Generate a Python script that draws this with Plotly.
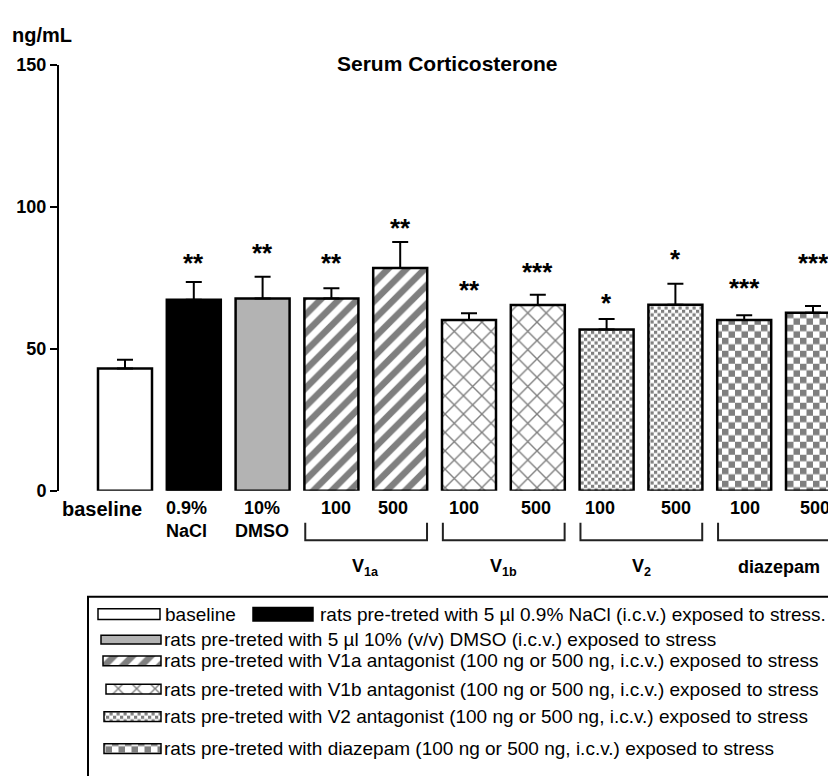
import plotly.graph_objects as go

# ---------------- data ----------------
categories = ["baseline", "0.9%<br>NaCl", "10%<br>DMSO", "100", "500", "100", "500",
              "100", "500", "100", "500"]
means = [43.1, 67.3, 67.7, 67.7, 78.4, 60.1, 65.4, 56.8, 65.5, 60.1, 62.7]
sem = [3.0, 6.2, 7.7, 3.6, 9.2, 2.4, 3.6, 3.7, 7.4, 1.7, 2.4]
stars = ["", "**", "**", "**", "**", "**", "***", "*", "*", "***", "***"]
star_y = [None, 82.8, 86.3, 82.5, 94.9, 73.1, 79.4, 68.6, 84.2, 74.0, 82.7]
bar_group = ["baseline", "NaCl", "DMSO", "V1a", "V1a", "V1b", "V1b", "V2", "V2",
             "diazepam", "diazepam"]
group_labels = ["V<sub>1a</sub>", "V<sub>1b</sub>", "V<sub>2</sub>", "diazepam"]
group_members = [[3, 4], [5, 6], [7, 8], [9, 10]]
y_ticks = [0, 50, 100, 150]
legend_keys = ["baseline", "NaCl", "DMSO", "V1a", "V1b", "V2", "diazepam"]
legend_texts = [
    "baseline",
    "rats pre-treted with 5 µl 0.9% NaCl (i.c.v.) exposed to stress.",
    "rats pre-treted with 5 µl 10% (v/v) DMSO (i.c.v.) exposed to stress",
    "rats pre-treted with V1a antagonist (100 ng or 500 ng, i.c.v.) exposed to stress",
    "rats pre-treted with V1b antagonist (100 ng or 500 ng, i.c.v.) exposed to stress",
    "rats pre-treted with V2 antagonist (100 ng or 500 ng, i.c.v.) exposed to stress",
    "rats pre-treted with diazepam (100 ng or 500 ng, i.c.v.) exposed to stress",
]

# ---------------- layout / style constants ----------------
W, H = 836, 776
OFF = 8  # page body margin: figure appears shifted by this many pixels
FONT = "Liberation Sans, Arial, sans-serif"
BAR_W = 0.785
label_shift_px = [-23, -7, -1, 5, -7, -5, -2, -7, 1, 1, 2]
label_size = [20, 18, 18, 18, 18, 18, 18, 18, 18, 18, 18]

CHECKER = "M0,0H6.5V6.5H0Z M6.5,6.5H13V13H6.5Z"
DOTS = "M0,0H3.2V3.2H0Z M3.5,3.5H6.7V6.7H3.5Z"

styles = {
    "baseline": dict(color="white"),
    "NaCl": dict(color="black"),
    "DMSO": dict(color="#b3b3b3"),
    "V1a": dict(color="white", pattern=dict(shape="/", fgcolor="black", bgcolor="white",
                                            size=13, solidity=0.5)),
    "V1b": dict(color="white", pattern=dict(shape="x", fgcolor="black", bgcolor="white",
                                            size=13, solidity=0.2)),
    "V2": dict(color="white", pattern=dict(path=DOTS, fgcolor="black", bgcolor="white",
                                           size=7)),
    "diazepam": dict(color="white", pattern=dict(path=CHECKER, fgcolor="black",
                                                 bgcolor="white", size=13)),
}

# legend geometry in screen pixels
leg_row_y = [620, 620, 646, 668, 697, 725, 758]
leg_sw_left = [98, 253, 101, 103, 106, 104, 104]
leg_sw_right = [160, 313, 161, 161, 161, 161, 161]
leg_sw_h = [11, 14, 9, 10, 10, 10, 10]
leg_text_left = [163, 318, 162, 162, 162, 162, 162]


def px_x(p):
    return (p - OFF) / W


def px_y(q):
    return 1 - (q - OFF) / H


# screen pixel -> bar index mapping: x = (p - 125) / 68.8
X_LEFT = (59 - 125) / 68.8
X_RIGHT = (W + OFF - 125) / 68.8

fig = go.Figure()

# ---------------- main bars ----------------
for key in ["baseline", "NaCl", "DMSO", "V1a", "V1b", "V2", "diazepam"]:
    idx = [i for i, g in enumerate(bar_group) if g == key]
    fig.add_trace(go.Bar(
        x=idx, y=[means[i] for i in idx], width=BAR_W,
        marker=dict(line=dict(color="black", width=2.5), **styles[key]),
        error_y=dict(type="data", symmetric=False, array=[sem[i] for i in idx],
                     arrayminus=[0] * len(idx), color="black", thickness=2, width=8),
        xaxis="x", yaxis="y", hoverinfo="skip",
    ))

# ---------------- legend swatches (own axes in screen-pixel units) ----------------
for k, key in enumerate(legend_keys):
    fig.add_trace(go.Bar(
        orientation="h", y=[leg_row_y[k]], x=[leg_sw_right[k] - leg_sw_left[k]],
        base=[leg_sw_left[k]], width=leg_sw_h[k],
        marker=dict(line=dict(color="black", width=1.5), **styles[key]),
        xaxis="x2", yaxis="y2", hoverinfo="skip",
    ))

annotations = []
# stars
for i, (s, yv) in enumerate(zip(stars, star_y)):
    if s:
        annotations.append(dict(x=i, y=yv, xref="x", yref="y", text=s, showarrow=False,
                                yanchor="middle", yshift=-7,
                                font=dict(family=FONT, size=26, color="black", weight="bold")))
# category labels
for i, c in enumerate(categories):
    annotations.append(dict(x=i, y=px_y(499), xref="x", yref="paper", text=c,
                            showarrow=False, yanchor="top", xshift=label_shift_px[i],
                            font=dict(family=FONT, size=label_size[i], color="black",
                                      weight="bold")))
# group labels and brackets
shapes = []
for lab, mem in zip(group_labels, group_members):
    xc = sum(mem) / len(mem)
    annotations.append(dict(x=xc, y=px_y(572), xref="x", yref="paper", text=lab,
                            showarrow=False, yanchor="middle",
                            font=dict(family=FONT, size=18, color="black", weight="bold")))
    x0 = mem[0] - 0.38
    x1 = mem[-1] + 0.39
    yt, yb = px_y(526), px_y(544)
    shapes.append(dict(type="path", xref="x", yref="paper",
                       path=f"M{x0},{yt} L{x0},{yb} L{x1},{yb} L{x1},{yt}",
                       line=dict(color="#222222", width=2)))

# legend texts
for k, t in enumerate(legend_texts):
    annotations.append(dict(x=px_x(leg_text_left[k]), y=px_y(leg_row_y[k]), xref="paper",
                            yref="paper", text=t, showarrow=False, xanchor="left",
                            yanchor="middle",
                            font=dict(family=FONT, size=19, color="black")))
# legend box
shapes.append(dict(type="rect", xref="paper", yref="paper", x0=px_x(88), x1=1.2,
                   y0=px_y(602), y1=-0.3, line=dict(color="black", width=2),
                   fillcolor="rgba(0,0,0,0)"))

# title and unit
annotations.append(dict(x=px_x(447), y=px_y(55), xref="paper", yref="paper",
                        text="Serum Corticosterone", showarrow=False,
                        xanchor="center", yanchor="middle",
                        font=dict(family=FONT, size=21, color="black", weight="bold")))
annotations.append(dict(x=px_x(10), y=px_y(25), xref="paper", yref="paper",
                        text="ng/mL", showarrow=False, xanchor="left", yanchor="middle",
                        font=dict(family=FONT, size=20, color="black", weight="bold")))

fig.update_layout(
    width=W, height=H, margin=dict(l=0, r=0, t=0, b=0),
    paper_bgcolor="white", plot_bgcolor="rgba(0,0,0,0)",
    showlegend=False, barmode="overlay",
    font=dict(family=FONT, color="black"),
    xaxis=dict(domain=[px_x(59), 1], range=[X_LEFT, X_RIGHT], showline=False,
               showgrid=False, zeroline=False, showticklabels=False, ticks=""),
    yaxis=dict(domain=[px_y(493.3), px_y(56)], range=[0, 150], tickvals=y_ticks,
               showline=True, linecolor="black", linewidth=2, ticks="outside",
               ticklen=7, tickwidth=2, tickcolor="black", showgrid=False,
               zeroline=False,
               tickfont=dict(family=FONT, size=18, color="black", weight="bold")),
    xaxis2=dict(domain=[0, 1], range=[OFF, W + OFF], visible=False, anchor="y2"),
    yaxis2=dict(domain=[0, px_y(602)], range=[H + OFF, 602], visible=False, anchor="x2"),
    annotations=annotations, shapes=shapes,
)

fig.write_html("out.html")
